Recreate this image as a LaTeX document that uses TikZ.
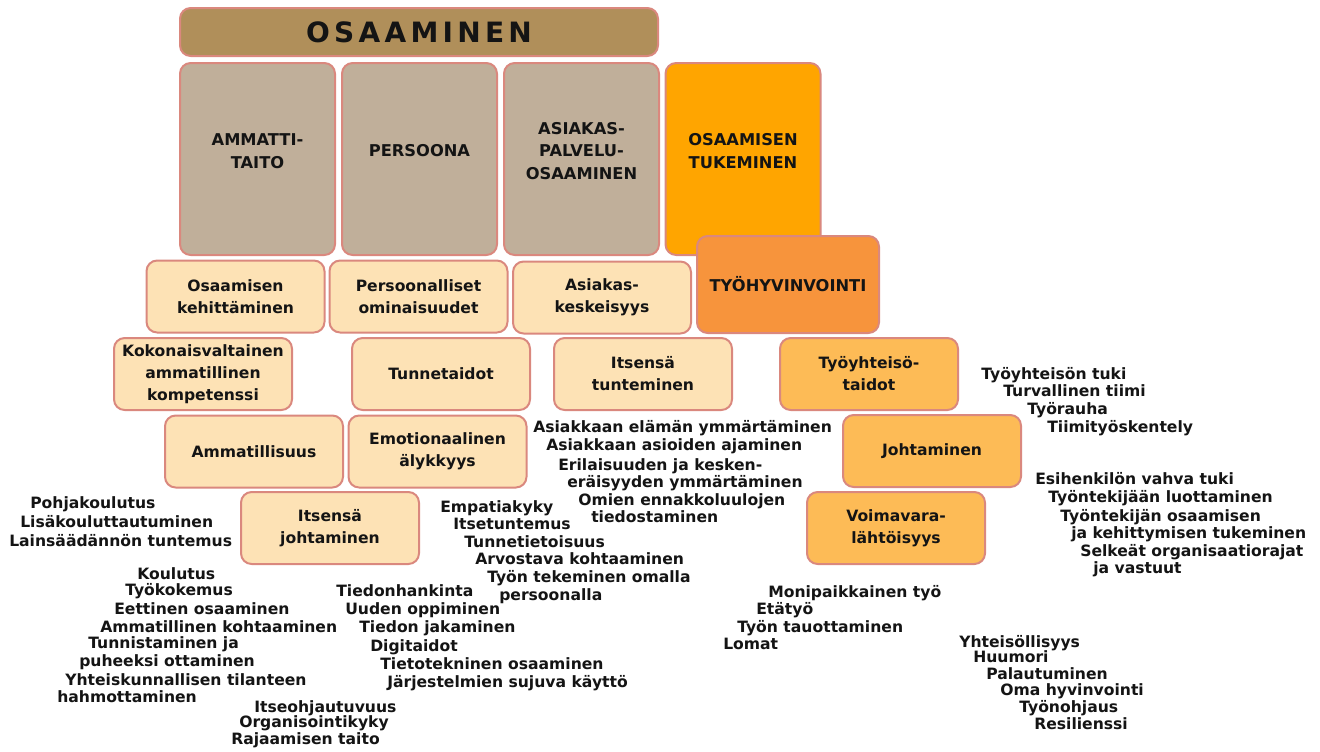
\documentclass[tikz,border=0pt]{standalone}
\usepackage{fontspec}
\setmainfont{DejaVu Sans}
\pgfdeclarelayer{bg}
\pgfsetlayers{bg,main}
\definecolor{bordc}{RGB}{218,136,126}
\definecolor{osac}{RGB}{176,143,90}
\definecolor{greyc}{RGB}{192,175,154}
\definecolor{lightc}{RGB}{253,226,181}
\definecolor{orac}{RGB}{255,165,0}
\definecolor{thvc}{RGB}{247,148,60}
\definecolor{ltorc}{RGB}{253,187,86}
\definecolor{txtc}{RGB}{20,20,20}
\definecolor{connc}{RGB}{60,60,60}
\begin{document}
\begin{tikzpicture}[x=0.75pt,y=-0.75pt,
  box/.style={draw=bordc,line width=1.5pt,rounded corners=8pt,inner sep=0pt,align=center,
    font=\bfseries\fontsize{11.7}{16.5}\selectfont,text=txtc},
  toplbl/.style={align=center,inner sep=0pt,font=\bfseries\fontsize{12.2}{16.8}\selectfont,text=txtc,yshift=6pt},
  topbox/.style={box,fill=greyc,minimum width=116.25pt,minimum height=144pt},
  lbox/.style={box,fill=lightc,minimum width=133.5pt,minimum height=54pt},
  obox/.style={box,fill=ltorc,minimum width=133.5pt,minimum height=54pt},
  lst/.style={anchor=base west,inner sep=0pt,font=\bfseries\fontsize{11.7}{14}\selectfont,text=txtc},
  conn/.style={draw=connc,line width=0.8pt}]
\fill[white] (0,0) rectangle (1320,751);
\useasboundingbox (0,0) rectangle (1320,751);

% top title
\node[box,fill=osac,minimum width=358.5pt,minimum height=36pt] (osa) at (419,32)
  {\fontsize{21}{24}\selectfont O\kern3.2pt S\kern3.2pt A\kern3.2pt A\kern3.2pt M\kern3.2pt I\kern3.2pt N\kern3.2pt E\kern3.2pt N};

% main columns
\node[topbox,label={[toplbl]center:{AMMATTI-\\TAITO}}] (amm) at (257.5,159) {};
\node[topbox,label={[toplbl]center:{PERSOONA}}] (per) at (419.5,159) {};
\node[topbox,label={[toplbl]center:{ASIAKAS-\\PALVELU-\\OSAAMINEN}}] (asi) at (581.5,159) {};
\node[topbox,fill=orac,label={[toplbl]center:{OSAAMISEN\\TUKEMINEN}}] (ost) at (743,159) {};
\node[box,fill=thvc,minimum width=136.5pt,minimum height=72.75pt,font=\bfseries\fontsize{12.2}{16.8}\selectfont] (thv) at (788,284.5) {TYÖHYVINVOINTI};

% second level
\node[lbox] (ok) at (235.5,296.5) {Osaamisen\\kehittäminen};
\node[lbox] (po) at (418.5,296.5) {Persoonalliset\\ominaisuudet};
\node[lbox] (ak) at (602,297.5) {Asiakas-\\keskeisyys};
\node[lbox] (kok) at (203,374) {Kokonaisvaltainen\\ammatillinen\\kompetenssi};
\node[lbox] (tt) at (441,374) {Tunnetaidot};
\node[lbox] (it) at (643,374) {Itsensä\\tunteminen};
\node[obox] (tyt) at (869,374) {Työyhteisö-\\taidot};
\node[lbox] (am) at (254,451.5) {Ammatillisuus};
\node[lbox] (ea) at (437.5,451.5) {Emotionaalinen\\älykkyys};
\node[obox] (jo) at (932,451) {Johtaminen};
\node[lbox] (ij) at (330,528) {Itsensä\\johtaminen};
\node[obox] (vv) at (896,528) {Voimavara-\\lähtöisyys};

% connectors behind boxes
\coordinate (c1) at (256,0);
\coordinate (c2) at (418,0);
\coordinate (c3) at (582,0);
\coordinate (c4) at (850,0);
\begin{pgfonlayer}{bg}
\draw[conn] (osa.south -| c1) -- (ij.north -| c1);
\draw[conn] (osa.south -| c2) -- (ea.north -| c2);
\draw[conn] (osa.south -| c3) -- (it.north -| c3);
\draw[conn] (thv.south -| c4) -- (vv.north -| c4);
\end{pgfonlayer}

% block A
\node[lst] (a1) at (30,508) {Pohjakoulutus};
\node[lst] (a2) at (20,527) {Lisäkouluttautuminen};
\node[lst] (a3) at (9,546) {Lainsäädännön tuntemus};
% block B
\node[lst] (b1) at (137,579) {Koulutus};
\node[lst] (b2) at (125,595) {Työkokemus};
\node[lst] (b3) at (114,614) {Eettinen osaaminen};
\node[lst] (b4) at (100,632) {Ammatillinen kohtaaminen};
\node[lst] (b5) at (88,648) {Tunnistaminen ja};
\node[lst] (b6) at (79,666) {puheeksi ottaminen};
\node[lst] (b7) at (65,685) {Yhteiskunnallisen tilanteen};
\node[lst] (b8) at (57,702) {hahmottaminen};
\node[lst] (b9) at (254,712) {Itseohjautuvuus};
\node[lst] (b10) at (239,727) {Organisointikyky};
\node[lst] (b11) at (231,744) {Rajaamisen taito};
% block C
\node[lst] (c1t) at (440,512) {Empatiakyky};
\node[lst] (c2t) at (453,529) {Itsetuntemus};
\node[lst] (c3t) at (464,547) {Tunnetietoisuus};
\node[lst] (c4t) at (475,564) {Arvostava kohtaaminen};
\node[lst] (c5t) at (487,582) {Työn tekeminen omalla};
\node[lst] (c6t) at (499,600) {persoonalla};
\node[lst] (c7t) at (336,596) {Tiedonhankinta};
\node[lst] (c8t) at (345,614) {Uuden oppiminen};
\node[lst] (c9t) at (359,632) {Tiedon jakaminen};
\node[lst] (c10t) at (370,651) {Digitaidot};
\node[lst] (c11t) at (380,669) {Tietotekninen osaaminen};
\node[lst] (c12t) at (387,687) {Järjestelmien sujuva käyttö};
% block D
\node[lst] (d1) at (533,432) {Asiakkaan elämän ymmärtäminen};
\node[lst] (d2) at (546,450) {Asiakkaan asioiden ajaminen};
\node[lst] (d3) at (558,470) {Erilaisuuden ja kesken-};
\node[lst] (d4) at (567,487) {eräisyyden ymmärtäminen};
\node[lst] (d5) at (578,505) {Omien ennakkoluulojen};
\node[lst] (d6) at (591,522) {tiedostaminen};
% block E
\node[lst] (e1) at (981,379) {Työyhteisön tuki};
\node[lst] (e2) at (1003,396) {Turvallinen tiimi};
\node[lst] (e3) at (1027,414) {Työrauha};
\node[lst] (e4) at (1047,432) {Tiimityöskentely};
\node[lst] (e5) at (1035,484) {Esihenkilön vahva tuki};
\node[lst] (e6) at (1048,502) {Työntekijään luottaminen};
\node[lst] (e7) at (1060,521) {Työntekijän osaamisen};
\node[lst] (e8) at (1071,538) {ja kehittymisen tukeminen};
\node[lst] (e9) at (1080,556) {Selkeät organisaatiorajat};
\node[lst] (e10) at (1093,573) {ja vastuut};
% block F
\node[lst] (f1) at (768,597) {Monipaikkainen työ};
\node[lst] (f2) at (756,614) {Etätyö};
\node[lst] (f3) at (737,632) {Työn tauottaminen};
\node[lst] (f4) at (723,649) {Lomat};
\node[lst] (f5) at (959,647) {Yhteisöllisyys};
\node[lst] (f6) at (973,662) {Huumori};
\node[lst] (f7) at (986,679) {Palautuminen};
\node[lst] (f8) at (1000,695) {Oma hyvinvointi};
\node[lst] (f9) at (1019,712) {Työnohjaus};
\node[lst] (f10) at (1034,729) {Resilienssi};
\end{tikzpicture}
\end{document}
